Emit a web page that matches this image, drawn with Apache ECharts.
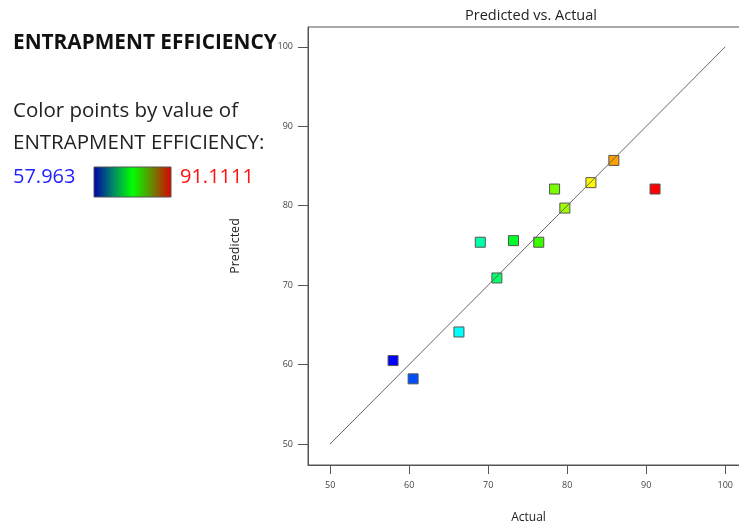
<!DOCTYPE html>
<html><head><meta charset="utf-8">
<script src="https://cdn.jsdelivr.net/npm/echarts@6/dist/echarts.min.js"></script>
<style>html,body{margin:0;padding:0;background:#fff}#c{width:739px;height:529px}</style>
</head><body><div id="c"></div>
<script>
var actual =    [57.963, 60.5, 66.3, 69.0, 71.1, 73.2, 76.4, 78.4, 79.7, 83.0, 85.9, 91.1111];
var predicted = [60.5,   58.2, 64.1, 75.4, 70.9, 75.6, 75.4, 82.1, 79.7, 82.9, 85.7, 82.1];
var refLine = [[50, 50], [100, 100]];
var xTicks = [50, 60, 70, 80, 90, 100];
var yTicks = [50, 60, 70, 80, 90, 100];
var colorMin = 57.963, colorMax = 91.1111;

var pts = actual.map(function (a, i) { return [a, predicted[i]]; });
var FONT = '"Open Sans", "Noto Sans", sans-serif';
var chart = echarts.init(document.getElementById('c'));
chart.setOption({
  animation: false,
  title: {
    text: 'Predicted vs. Actual', left: 526, top: 3, textAlign: 'center',
    textStyle: { fontFamily: FONT, fontSize: 14.5, fontWeight: 'normal', color: '#222' }
  },
  grid: { left: 308, top: 27, width: 441, height: 438, show: true, borderColor: '#555', borderWidth: 1,
    outerBoundsMode: 'none', containLabel: false },
  xAxis: {
    type: 'value', min: 47.2, max: 103.0,
    name: 'Actual', nameLocation: 'middle', nameGap: 47,
    nameTextStyle: { fontFamily: FONT, fontSize: 12, color: '#222' },
    axisLine: { lineStyle: { color: '#555' } },
    axisTick: { show: true, length: 9, lineStyle: { color: '#555' }, customValues: xTicks },
    axisLabel: { fontFamily: FONT, fontSize: 9, color: '#444', margin: 16, customValues: xTicks },
    splitLine: { show: false }
  },
  yAxis: {
    type: 'value', min: 47.35, max: 102.5,
    name: 'Predicted', nameLocation: 'middle', nameGap: 66,
    nameTextStyle: { fontFamily: FONT, fontSize: 12.5, color: '#222' },
    axisLine: { lineStyle: { color: '#555' } },
    axisTick: { show: true, length: 10, lineStyle: { color: '#555' }, customValues: yTicks },
    axisLabel: { fontFamily: FONT, fontSize: 9, color: '#444', margin: 15, customValues: yTicks },
    splitLine: { show: false }
  },
  visualMap: {
    show: false, type: 'continuous', seriesIndex: 0, dimension: 0,
    min: colorMin, max: colorMax,
    inRange: { color: ['#0000ff', '#00ffff', '#00ff00', '#ffff00', '#ff0000'] }
  },
  graphic: [
    { type: 'text', left: 13, top: 33, style: { text: 'ENTRAPMENT EFFICIENCY', font: 'bold 20.8px ' + FONT, fill: '#111' } },
    { type: 'text', left: 13, top: 101, style: { text: 'Color points by value of', font: '20.5px ' + FONT, fill: '#222' } },
    { type: 'text', left: 13, top: 133, style: { text: 'ENTRAPMENT EFFICIENCY:', font: '20.5px ' + FONT, fill: '#222' } },
    { type: 'text', left: 13, top: 167, style: { text: '57.963', font: '20px ' + FONT, fill: '#2222ff' } },
    { type: 'rect', shape: { x: 94, y: 167, width: 77, height: 30 },
      style: { stroke: '#555', lineWidth: 1,
        fill: new echarts.graphic.LinearGradient(0, 0, 1, 0, [
          { offset: 0, color: '#0000aa' }, { offset: 0.25, color: '#008866' },
          { offset: 0.5, color: '#00ff00' }, { offset: 0.75, color: '#668800' },
          { offset: 1, color: '#dd0000' }]) } },
    { type: 'text', left: 180, top: 167, style: { text: '91.1111', font: '20px ' + FONT, fill: '#ff1111' } }
  ],
  series: [
    { type: 'scatter', data: pts, symbol: 'rect', symbolSize: 10, z: 2,
      itemStyle: { borderColor: '#555', borderWidth: 1, opacity: 1 } },
    { type: 'line', data: refLine, showSymbol: false, symbol: 'none', z: 3,
      lineStyle: { color: '#666', width: 1 } }
  ]
});
</script></body></html>
